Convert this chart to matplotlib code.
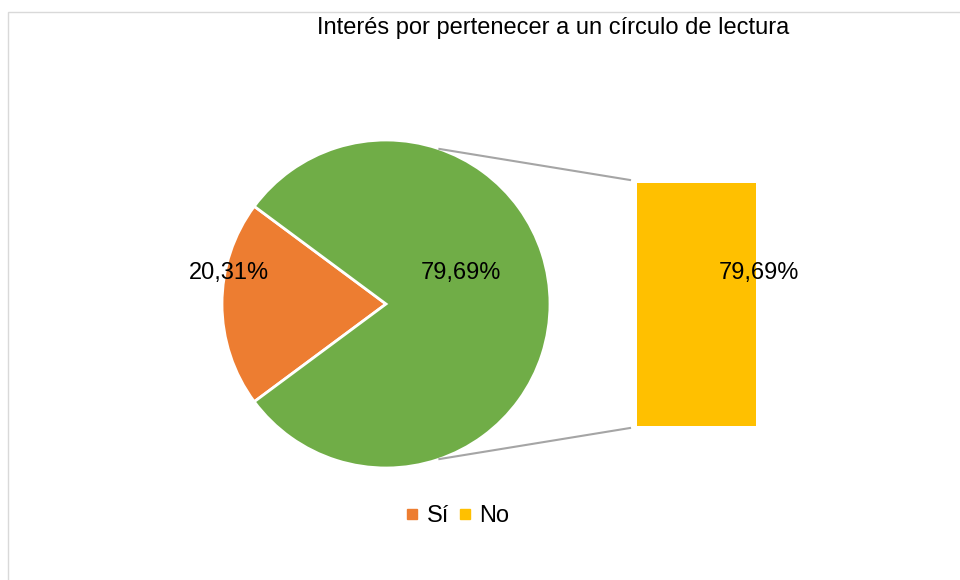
import matplotlib.pyplot as plt
from matplotlib.patches import Rectangle
import numpy as np

plt.rcParams['font.family'] = ['Liberation Sans Narrow', 'Liberation Sans', 'DejaVu Sans']

# data
categorias = ['Sí', 'No']
valores = [20.31, 79.69]
colores_pie = ['#ed7d31', '#70ad47']
color_barra = '#ffc000'
etiquetas = ['20,31%', '79,69%']
titulo = 'Interés por pertenecer a un círculo de lectura'

W, H = 960, 580
fig = plt.figure(figsize=(W / 100, H / 100), dpi=100)

# main axes in pixel coords (y up)
ax = fig.add_axes([0, 0, 1, 1])

# chart border (cut off at right and bottom)
ax.add_patch(Rectangle((8, -10), W + 10, H - 12 + 10, fill=False,
                       edgecolor='#d9d9d9', linewidth=1))

cx, cy, r = 386, H - 304, 164
inicio = 180 - valores[0] / 100 * 360 / 2
ax.pie(valores, colors=colores_pie, startangle=inicio, center=(cx, cy),
       radius=r, wedgeprops=dict(edgecolor='white', linewidth=2),
       frame=True)
ax.set_xlim(0, W)
ax.set_ylim(0, H)
ax.set_aspect('equal')
ax.axis('off')

# labels on pie
ax.text(229, H - 273, etiquetas[0], ha='center', va='center', fontsize=17)
ax.text(461, H - 273, etiquetas[1], ha='center', va='center', fontsize=17)

# connector lines
ang = np.deg2rad(71)
ax.plot([cx + r * np.cos(ang), 630], [cy + r * np.sin(ang), H - 180],
        color='#a5a5a5', linewidth=1.5)
ax.plot([cx + r * np.cos(ang), 630], [cy - r * np.sin(ang), H - 428],
        color='#a5a5a5', linewidth=1.5)

# secondary bar
bx, by, bw, bh = 637, H - 426, 119, 243
ax2 = fig.add_axes([bx / W, by / H, bw / W, bh / H])
ax2.bar([0], [valores[1]], width=1, color=color_barra)
ax2.set_xlim(-0.5, 0.5)
ax2.set_ylim(0, valores[1])
ax2.axis('off')
fig.text(759 / W, 1 - 273 / H, etiquetas[1], ha='center', va='center',
         fontsize=17, zorder=10)

# title
ax.text(553, H - 28, titulo, ha='center', va='center', fontsize=17)

# legend
handles = [plt.Line2D([], [], marker='s', linestyle='', color=c, markersize=7)
           for c in [colores_pie[0], color_barra]]
ax.legend(handles, categorias, loc='center', bbox_to_anchor=(455 / W, 1 - 516 / H),
          ncol=2, frameon=False, fontsize=17, handletextpad=0.1,
          columnspacing=0.2, handlelength=1.0)

fig.savefig('out.png', dpi=100)
